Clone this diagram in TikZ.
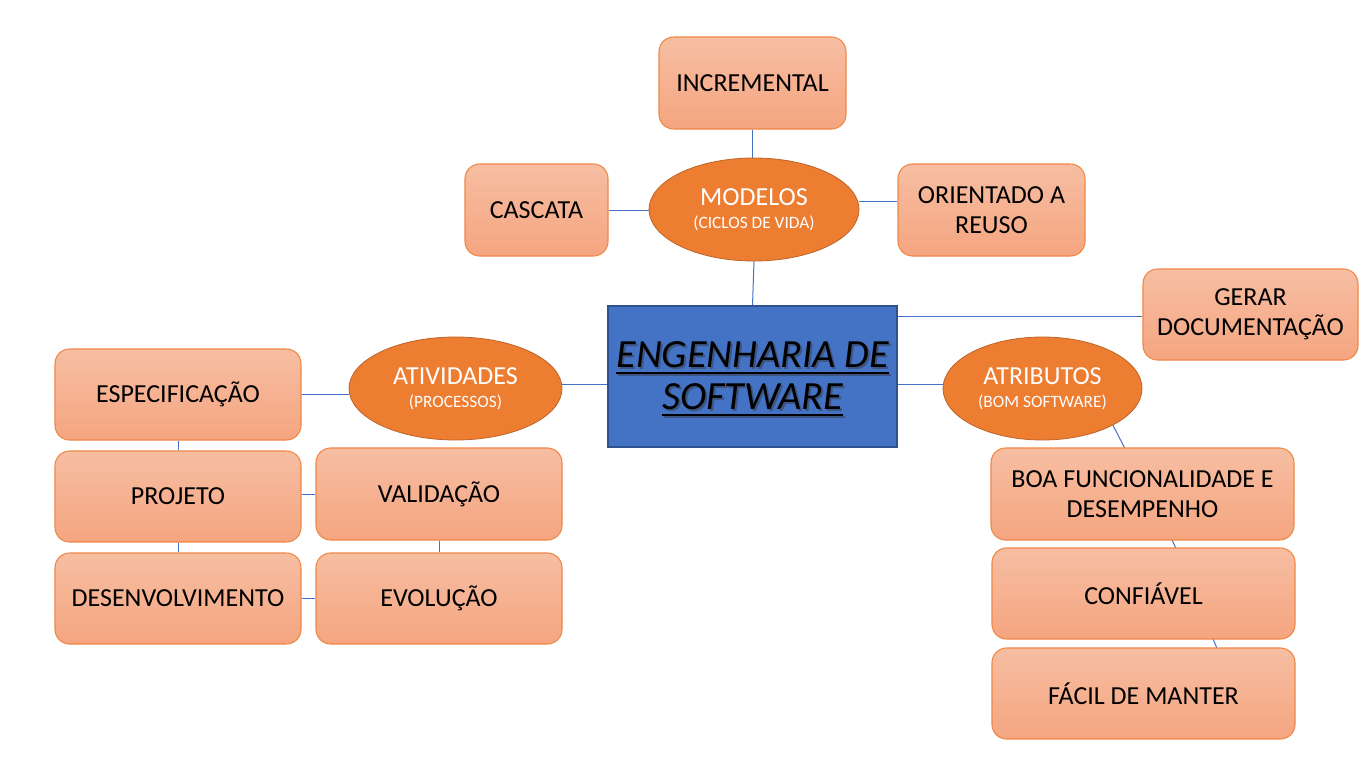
\documentclass[tikz,border=0pt]{standalone}
\usepackage{fontspec}
\setmainfont{Carlito}
\usetikzlibrary{shapes.geometric}
\pgfdeclarelayer{background}
\pgfsetlayers{background,main}
\definecolor{boxtop}{RGB}{246,190,162}
\definecolor{boxbot}{RGB}{245,165,128}
\definecolor{boxline}{RGB}{240,135,70}
\definecolor{ellfill}{RGB}{237,125,49}
\definecolor{elline}{RGB}{190,100,40}
\definecolor{cfill}{RGB}{68,114,196}
\definecolor{cline}{RGB}{47,82,143}
\definecolor{conn}{RGB}{68,114,196}
\newcommand\myul[1]{\setbox0\hbox{#1}\rlap{\rule[-4.8pt]{\wd0}{1.7pt}}\box0}
\newcommand\bigtxt{\fontsize{19.5}{22.5}\selectfont}
\newcommand\smalltxt{\fontsize{13}{15}\selectfont}
\begin{document}
\begin{tikzpicture}[x=0.75pt,y=-0.75pt,
  box/.style={draw=boxline, line width=0.8pt, rounded corners=11pt,
    top color=boxtop, bottom color=boxbot, align=center, inner sep=2pt,
    font=\bigtxt, text=black},
  ell/.style={ellipse, draw=elline, line width=0.6pt, fill=ellfill, inner sep=0pt,
    align=center, text=white, minimum height=77.25pt},
  link/.style={draw=conn, line width=0.75pt}]
\useasboundingbox (0,0) rectangle (1366,768);

% center
\node[draw=cline, line width=0.8pt, fill=cfill, minimum width=216.75pt, minimum height=105.75pt, inner sep=0pt] (eng) at (752.5,376.5) {};
\node[align=center, font=\fontsize{30}{31.5}\selectfont\itshape, text=black!80, opacity=0.45] (engs) at (754.5,381) {\myul{ENGENHARIA DE}\\\myul{SOFTWARE}};
\node[align=center, font=\fontsize{30}{31.5}\selectfont\itshape, text=black] (engt) at (752.5,379) {\myul{ENGENHARIA DE}\\\myul{SOFTWARE}};

% ellipses
\node[ell, minimum width=157.5pt] (mod) at (754,209.5) {{\bigtxt MODELOS}\\[5pt]{\smalltxt (CICLOS DE VIDA)}};
\node[ell, minimum width=159.75pt] (ativ) at (455.5,388.5) {{\bigtxt ATIVIDADES}\\[5pt]{\smalltxt (PROCESSOS)}};
\node[ell, minimum width=149.25pt] (atr) at (1042.5,388.5) {{\bigtxt ATRIBUTOS}\\[5pt]{\smalltxt (BOM SOFTWARE)}};

% model boxes
\node[box, minimum width=140.25pt, minimum height=69pt] (inc) at (752.5,83) {INCREMENTAL};
\node[box, minimum width=107.25pt, minimum height=69pt] (cas) at (536.5,210) {CASCATA};
\node[box, minimum width=140.25pt, minimum height=69pt] (reu) at (991.5,210) {ORIENTADO A\\REUSO};
\node[box, minimum width=161.25pt, minimum height=68.25pt] (doc) at (1250.5,314.5) {GERAR\\DOCUMENTAÇÃO};

% activity boxes
\node[box, minimum width=184.5pt, minimum height=68.25pt] (esp) at (178,394.5) {ESPECIFICAÇÃO};
\node[box, minimum width=184.5pt, minimum height=68.25pt] (proj) at (178,496.5) {PROJETO};
\node[box, minimum width=184.5pt, minimum height=68.25pt] (dev) at (178,598.5) {DESENVOLVIMENTO};
\node[box, minimum width=184.5pt, minimum height=69pt] (val) at (439,494) {VALIDAÇÃO};
\node[box, minimum width=184.5pt, minimum height=68.25pt] (evo) at (439,598.5) {EVOLUÇÃO};

% attribute boxes
\node[box, minimum width=227.25pt, minimum height=69pt] (boa) at (1142.5,494) {BOA FUNCIONALIDADE E\\DESEMPENHO};
\node[box, minimum width=227.25pt, minimum height=68.25pt] (conf) at (1143.5,593.5) {CONFIÁVEL};
\node[box, minimum width=227.25pt, minimum height=68.25pt] (fac) at (1143.5,693.5) {FÁCIL DE MANTER};

\coordinate (a0) at (1100,400);
\coordinate (a1) at (1174,544);
\coordinate (a2) at (1230,680);

\begin{pgfonlayer}{background}
\fill[white] (0,0) rectangle (1366,768);
\draw[link] (inc.south) -- (inc.south |- mod.north);
\draw[link] (cas.east) -- (cas.east -| mod.west);
\draw[link] (mod.east |- 0,201) -- (reu.west |- 0,201);
\draw[link] (mod.south) -- (eng.north);
\draw[link] (eng.east |- 0,316) -- (doc.west |- 0,316);
\draw[link] (eng.east |- 0,384) -- (atr.west |- 0,384);
\draw[link] (ativ.east |- 0,384) -- (eng.west |- 0,384);
\draw[link] (esp.east) -- (ativ.west |- esp.east);
\draw[link] (esp.south) -- (proj.north);
\draw[link] (proj.south) -- (dev.north);
\draw[link] (proj.east |- 0,494) -- (val.west |- 0,494);
\draw[link] (val.south) -- (evo.north);
\draw[link] (dev.east) -- (evo.west);
\draw[link] (a0) -- (a1) -- (a2);
\end{pgfonlayer}
\end{tikzpicture}
\end{document}
